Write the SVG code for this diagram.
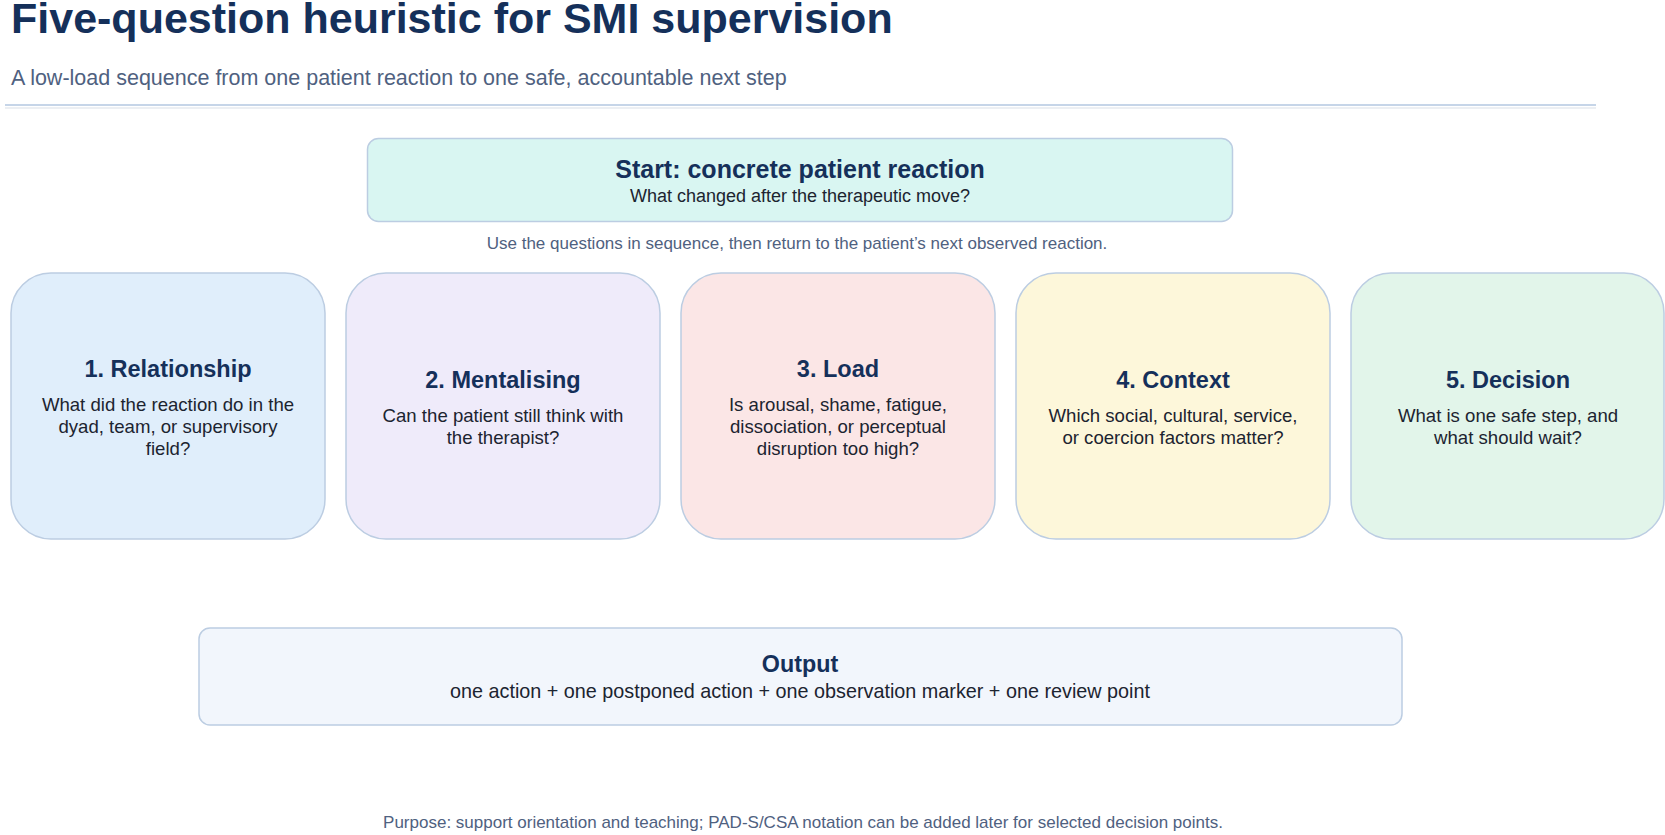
<svg xmlns="http://www.w3.org/2000/svg" width="1665" height="835" viewBox="0 0 1665 835">
<style>
text{font-family:"Liberation Sans",Arial,sans-serif}
.h{fill:#15305a;font-weight:bold}
.b{fill:#1c2430}
.m{fill:#4f6180}
.card{stroke:#bccde2;stroke-width:1.5}
</style>
<rect x="0" y="0" width="1665" height="835" fill="#ffffff"/>
<g id="header">
<text x="11" y="33" class="h" font-size="43">Five-question heuristic for SMI supervision</text>
<text x="11" y="85" class="m" font-size="21.5">A low-load sequence from one patient reaction to one safe, accountable next step</text>
<line x1="5" y1="105" x2="1596" y2="105" stroke="#c6d5e8" stroke-width="2"/>
<line x1="5" y1="108" x2="1596" y2="108" stroke="#eceff3" stroke-width="2"/>
</g>
<g id="start">
<rect class="card" x="367.5" y="138.5" width="865" height="83" rx="11" fill="#d9f6f2"/>
<text x="800" y="178" text-anchor="middle" class="h" font-size="25">Start: concrete patient reaction</text>
<text x="800" y="202" text-anchor="middle" class="b" font-size="18">What changed after the therapeutic move?</text>
</g>
<g id="note">
<text x="797" y="248.5" text-anchor="middle" class="m" font-size="17">Use the questions in sequence, then return to the patient’s next observed reaction.</text>
</g>
<g id="q1">
<rect class="card" x="11" y="273" width="314" height="266" rx="40" fill="#e0eefb"/>
<text x="168" y="377" text-anchor="middle" class="h" font-size="23.5">1. Relationship</text>
<text x="168" y="411" text-anchor="middle" class="b" font-size="18.6">What did the reaction do in the</text>
<text x="168" y="433" text-anchor="middle" class="b" font-size="18.6">dyad, team, or supervisory</text>
<text x="168" y="455" text-anchor="middle" class="b" font-size="18.6">field?</text>
</g>
<g id="q2">
<rect class="card" x="346" y="273" width="314" height="266" rx="40" fill="#efebfa"/>
<text x="503" y="388" text-anchor="middle" class="h" font-size="23.5">2. Mentalising</text>
<text x="503" y="422" text-anchor="middle" class="b" font-size="18.6">Can the patient still think with</text>
<text x="503" y="444" text-anchor="middle" class="b" font-size="18.6">the therapist?</text>
</g>
<g id="q3">
<rect class="card" x="681" y="273" width="314" height="266" rx="40" fill="#fbe6e6"/>
<text x="838" y="377" text-anchor="middle" class="h" font-size="23.5">3. Load</text>
<text x="838" y="411" text-anchor="middle" class="b" font-size="18.6">Is arousal, shame, fatigue,</text>
<text x="838" y="433" text-anchor="middle" class="b" font-size="18.6">dissociation, or perceptual</text>
<text x="838" y="455" text-anchor="middle" class="b" font-size="18.6">disruption too high?</text>
</g>
<g id="q4">
<rect class="card" x="1016" y="273" width="314" height="266" rx="40" fill="#fdf7da"/>
<text x="1173" y="388" text-anchor="middle" class="h" font-size="23.5">4. Context</text>
<text x="1173" y="422" text-anchor="middle" class="b" font-size="18.6">Which social, cultural, service,</text>
<text x="1173" y="444" text-anchor="middle" class="b" font-size="18.6">or coercion factors matter?</text>
</g>
<g id="q5">
<rect class="card" x="1351" y="273" width="313" height="266" rx="40" fill="#e2f5ea"/>
<text x="1508" y="388" text-anchor="middle" class="h" font-size="23.5">5. Decision</text>
<text x="1508" y="422" text-anchor="middle" class="b" font-size="18.6">What is one safe step, and</text>
<text x="1508" y="444" text-anchor="middle" class="b" font-size="18.6">what should wait?</text>
</g>
<g id="output">
<rect class="card" x="199" y="628" width="1203" height="97" rx="11" fill="#f2f6fc"/>
<text x="800" y="672" text-anchor="middle" class="h" font-size="23.3">Output</text>
<text x="800" y="698" text-anchor="middle" class="b" font-size="19.8">one action + one postponed action + one observation marker + one review point</text>
</g>
<g id="connectors"></g>
<g id="footer">
<text x="803" y="828" text-anchor="middle" class="m" font-size="17">Purpose: support orientation and teaching; PAD-S/CSA notation can be added later for selected decision points.</text>
</g>
</svg>
